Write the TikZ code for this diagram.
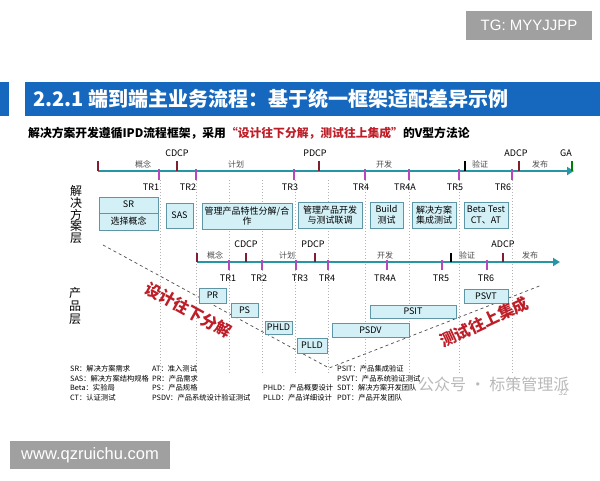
\documentclass[tikz,border=0pt]{standalone}
\usepackage{fontspec}
\setmainfont{Noto Sans CJK SC}
\newfontfamily\libsans{Liberation Sans}
\usetikzlibrary{arrows.meta}
\definecolor{titleblue}{RGB}{22,104,190}
\definecolor{tline}{RGB}{38,150,165}
\definecolor{phasec}{RGB}{130,30,50}
\definecolor{trc}{RGB}{185,70,190}
\definecolor{boxfill}{RGB}{212,240,247}
\definecolor{boxline}{RGB}{95,150,165}
\definecolor{vred}{RGB}{190,30,40}
\definecolor{graybox}{RGB}{160,160,160}
\tikzset{
  bx/.style={draw=boxline, fill=boxfill, line width=0.8pt, inner sep=0pt, align=center, font=\fontsize{9}{10.5}\selectfont},
  guide/.style={draw=gray!60, line width=0.5pt, dash pattern=on 1pt off 2pt},
  tlarrow/.style={draw=tline, line width=2.6pt, -{Triangle[length=7pt,width=8pt]}},
  phtick/.style={draw=phasec, line width=2pt},
  trtick/.style={draw=trc, line width=2pt},
  phlab/.style={font=\fontsize{8}{8}\selectfont, text=black!70, inner sep=0pt},
  dcplab/.style={font=\fontsize{9}{9}\selectfont, inner sep=0pt},
  trlab/.style={font=\fontsize{9}{9}\selectfont, inner sep=0pt},
  leg/.style={font=\fontsize{7.3}{7.3}\selectfont, anchor=west, inner sep=0pt},
  vline/.style={draw=black!70, line width=0.7pt, dashed},
  vtext/.style={text=vred, font=\fontsize{16}{16}\bfseries, inner sep=0pt}
}
\begin{document}
\begin{tikzpicture}[x=1pt,y=-1pt]
\useasboundingbox (0,0) rectangle (600,480);
\fill[white] (0,0) rectangle (600,480);
% watermark boxes
\node[fill=graybox, text=white, font=\libsans\fontsize{15}{15}\selectfont, minimum width=126pt, minimum height=29pt, inner sep=0pt] (tg) at (529,25.5) {TG: MYYJJPP};
\node[fill=graybox, text=white, font=\libsans\fontsize{16.5}{16.5}\selectfont, minimum width=160pt, minimum height=28pt, inner sep=0pt] (www) at (90,455) {www.qzruichu.com};
% title bar
\fill[titleblue] (0,82) rectangle (9,116);
\fill[titleblue] (25,82) rectangle (600,116);
\node[anchor=west, text=white, font=\fontsize{20}{20}\bfseries, inner sep=0pt] (title) at (33,99) {2.2.1 端到端主业务流程：基于统一框架适配差异示例};
\node[anchor=west, font=\fontsize{11.8}{11.8}\bfseries, inner sep=0pt] (sub) at (28,133) {解决方案开发遵循IPD流程框架，采用\textcolor{vred}{“设计往下分解，测试往上集成”}的V型方法论};
% guide lines
\foreach \x in {160,196,229,262,295,328,365,409,459,512} {\draw[guide] (\x,180) -- (\x,373);}
% side labels
\node[font=\fontsize{12}{11.8}\selectfont, align=center, inner sep=0pt] (sollab) at (76,214.5) {解\\决\\方\\案\\层};
\node[font=\fontsize{12}{13}\selectfont, align=center, inner sep=0pt] (prodlab) at (75,306) {产\\品\\层};
% upper timeline
\coordinate (u0) at (98,171);
\coordinate (u1) at (574,171);
\draw[tlarrow] (u0) -- (u1);
\foreach \x in {98,177,319,519} {\draw[phtick] (\x,161) -- (\x,171);}
\draw[draw=black, line width=2pt] (465,161) -- (465,171);
\draw[draw=green!50!black, line width=2pt] (572,161) -- (572,171);
\foreach \x in {159,196,294,365,409,459,512} {\draw[trtick] (\x,169) -- (\x,180);}
\node[phlab] (uc) at (143,164) {概念};
\node[phlab] (up) at (236,164) {计划};
\node[phlab] (ud) at (384,164) {开发};
\node[phlab] (uv) at (480,164) {验证};
\node[phlab] (ur) at (540,164) {发布};
\node[dcplab] (ucdcp) at (177,153) {CDCP};
\node[dcplab] (updcp) at (315,153) {PDCP};
\node[dcplab] (uadcp) at (516,153) {ADCP};
\node[dcplab] (uga) at (566,153) {GA};
\node[trlab] (utr1) at (151,187) {TR1};
\node[trlab] (utr2) at (188,187) {TR2};
\node[trlab] (utr3) at (290,187) {TR3};
\node[trlab] (utr4) at (361,187) {TR4};
\node[trlab] (utr4a) at (405,187) {TR4A};
\node[trlab] (utr5) at (455,187) {TR5};
\node[trlab] (utr6) at (503,187) {TR6};
% upper boxes
\node[bx, minimum width=59pt, minimum height=33pt, font=\fontsize{9}{17}\selectfont] (sr) at (128.5,213.5) {SR\\选择概念};
\draw[draw=boxline, line width=0.8pt] (sr.west) -- (sr.east);
\node[bx, minimum width=27pt, minimum height=25pt] (sas) at (179.5,215.5) {SAS};
\node[bx, minimum width=90pt, minimum height=26pt] (mgf) at (247,216) {管理产品特性分解/合\\作};
\node[bx, minimum width=64pt, minimum height=26pt] (mgd) at (330,215) {管理产品开发\\与测试联调};
\node[bx, minimum width=33pt, minimum height=26pt] (build) at (386.5,215) {Build\\测试};
\node[bx, minimum width=44pt, minimum height=26pt] (sit) at (434,215) {解决方案\\集成测试};
\node[bx, minimum width=44pt, minimum height=26pt] (beta) at (486,215) {Beta Test\\CT、AT};
% lower timeline
\coordinate (l0) at (197,262);
\coordinate (l1) at (560,262);
\draw[tlarrow] (l0) -- (l1);
\foreach \x in {197,246,315,503} {\draw[phtick] (\x,253) -- (\x,262);}
\draw[draw=black, line width=2pt] (451,253) -- (451,262);
\foreach \x in {229,262,296,328,387,442,487} {\draw[trtick] (\x,260) -- (\x,270);}
\node[phlab] (lc) at (215,255) {概念};
\node[phlab] (lp) at (287,255) {计划};
\node[phlab] (ld) at (385,255) {开发};
\node[phlab] (lv) at (467,255) {验证};
\node[phlab] (lr) at (530,255) {发布};
\node[dcplab] (lcdcp) at (246,244) {CDCP};
\node[dcplab] (lpdcp) at (313,244) {PDCP};
\node[dcplab] (ladcp) at (503,244) {ADCP};
\node[trlab] (ltr1) at (228,278) {TR1};
\node[trlab] (ltr2) at (259,278) {TR2};
\node[trlab] (ltr3) at (300,278) {TR3};
\node[trlab] (ltr4) at (327,278) {TR4};
\node[trlab] (ltr4a) at (385,278) {TR4A};
\node[trlab] (ltr5) at (441,278) {TR5};
\node[trlab] (ltr6) at (486,278) {TR6};
% V lines
\coordinate (vl) at (103,245);
\coordinate (vb) at (329,368);
\coordinate (vr) at (542,285);
\draw[vline] (vl) -- (vb) -- (vr);
% lower boxes
\node[bx, minimum width=27pt, minimum height=15pt] (pr) at (212.5,295.5) {PR};
\node[bx, minimum width=27pt, minimum height=14pt] (ps) at (244.5,310) {PS};
\node[bx, minimum width=27pt, minimum height=13pt] (phld) at (278.5,327.5) {PHLD};
\node[bx, minimum width=30pt, minimum height=15pt] (plld) at (312,345.5) {PLLD};
\node[bx, minimum width=77pt, minimum height=14pt] (psdv) at (370.5,330) {PSDV};
\node[bx, minimum width=86pt, minimum height=13pt] (psit) at (413,311.5) {PSIT};
\node[bx, minimum width=44pt, minimum height=14pt] (psvt) at (486,296) {PSVT};
% V texts
\node[vtext, rotate=-29] (down) at (188,310) {设计往下分解};
\node[vtext, rotate=25] (up) at (484,322) {测试往上集成};
% watermark
\node[anchor=west, text=gray!55, font=\fontsize{16}{16}\selectfont, inner sep=0pt] (wm) at (418,384) {公众号 · 标策管理派};
\node[text=gray!60, font=\fontsize{8}{8}\selectfont, inner sep=0pt] (pg) at (563,393) {32};
% legend
\node[leg] (g1) at (70,369) {SR：解决方案需求};
\node[leg] (g2) at (70,378.5) {SAS：解决方案结构规格};
\node[leg] (g3) at (70,388) {Beta：实验局};
\node[leg] (g4) at (70,397.5) {CT：认证测试};
\node[leg] (g5) at (152,369) {AT：准入测试};
\node[leg] (g6) at (152,378.5) {PR：产品需求};
\node[leg] (g7) at (152,388) {PS：产品规格};
\node[leg] (g8) at (152,397.5) {PSDV：产品系统设计验证测试};
\node[leg] (g9) at (263,388) {PHLD：产品概要设计};
\node[leg] (g10) at (263,397.5) {PLLD：产品详细设计};
\node[leg] (g11) at (337,369) {PSIT：产品集成验证};
\node[leg] (g12) at (337,378.5) {PSVT：产品系统验证测试};
\node[leg] (g13) at (337,388) {SDT：解决方案开发团队};
\node[leg] (g14) at (337,397.5) {PDT：产品开发团队};
\end{tikzpicture}
\end{document}
